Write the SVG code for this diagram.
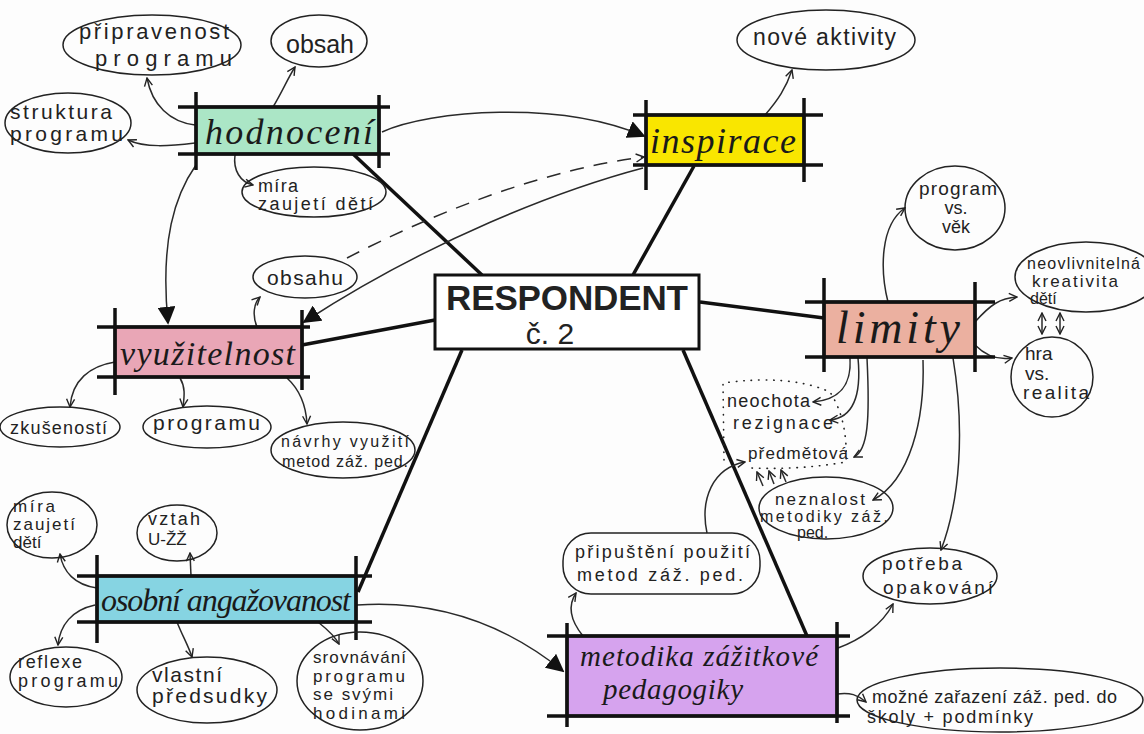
<svg xmlns="http://www.w3.org/2000/svg" width="1144" height="734" viewBox="0 0 1144 734">
<defs>
<marker id="open" viewBox="0 0 10 10" refX="9" refY="5" markerWidth="10" markerHeight="10" markerUnits="userSpaceOnUse" orient="auto-start-reverse">
<path d="M1,1 L9,5 L1,9" fill="none" stroke="#222" stroke-width="1.4"/>
</marker>
<marker id="solid" viewBox="0 0 10 10" refX="9" refY="5" markerWidth="18" markerHeight="18" markerUnits="userSpaceOnUse" orient="auto">
<path d="M0,0 L10,5 L0,10 z" fill="#111"/>
</marker>
<style>
.bub{fill:none;stroke:#222;stroke-width:1.5}
.t{font-family:"Liberation Sans","DejaVu Sans",sans-serif;fill:#222}
.lab{font-family:"Liberation Serif","DejaVu Serif",serif;font-style:italic;fill:#1a1a1a}
.frame{stroke:#111;stroke-width:3.5;fill:none}
.box{stroke:#111;stroke-width:3}
.c{fill:none;stroke:#2a2a2a;stroke-width:1.5}
.thick{fill:none;stroke:#111;stroke-width:3.5}
</style>
</defs>
<rect width="1144" height="734" fill="#fdfdfd"/>

<g id="connectors">
<g id="spokes">
<path class="thick" d="M482,275 L352,153"/>
<path class="thick" d="M633,275 L694,166"/>
<path class="thick" d="M435,320 L302,345"/>
<path class="thick" d="M700,302 L824,318"/>
<path class="thick" d="M462,350 L358,592"/>
<path class="thick" d="M683,350 L807,636"/>
</g>
<path class="c" marker-end="url(#open)" d="M195,125 C170,122 152,105 147,78"/>
<path class="c" marker-end="url(#open)" d="M273,107 C282,92 288,78 295,67"/>
<path class="c" marker-end="url(#open)" d="M195,143 C170,146 145,148 128,140"/>
<path class="c" marker-end="url(#open)" d="M235,155 C233,170 240,182 253,185"/>
<path class="c" marker-end="url(#solid)" d="M196,165 C175,195 160,240 168,323"/>
<path class="c" marker-end="url(#solid)" d="M382,132 C430,110 560,100 644,136"/>
<path class="c" marker-end="url(#open)" d="M765,115 C778,100 786,88 792,70"/>
<path class="c" marker-end="url(#open)" stroke-dasharray="14 10" d="M347,258 C430,215 540,170 644,157"/>
<path class="c" marker-end="url(#solid)" d="M643,168 C560,190 430,240 304,322"/>
<path class="c" marker-end="url(#open)" d="M257,327 C252,315 254,303 260,297"/>
<path class="c" marker-end="url(#open)" d="M115,362 C90,366 72,380 70,407"/>
<path class="c" marker-end="url(#open)" d="M180,378 C186,388 184,398 183,407"/>
<path class="c" marker-end="url(#open)" d="M287,378 C300,390 306,405 307,424"/>
<path class="c" marker-end="url(#open)" d="M888,302 C880,270 880,225 905,208"/>
<path class="c" marker-end="url(#open)" d="M975,322 C990,305 1000,298 1017,297"/>
<path class="c" marker-end="url(#open)" d="M975,345 C988,358 1000,360 1012,358"/>
<path class="c" marker-start="url(#open)" marker-end="url(#open)" d="M1042,313 L1042,334"/>
<path class="c" marker-start="url(#open)" marker-end="url(#open)" d="M1060,313 L1060,334"/>
<path class="c" marker-end="url(#open)" d="M850,358 C852,390 835,400 813,402"/>
<path class="c" marker-end="url(#open)" d="M858,358 C862,400 850,418 830,420"/>
<path class="c" marker-end="url(#open)" d="M867,358 C870,420 868,450 854,457"/>
<path class="c" marker-end="url(#open)" d="M923,360 C925,420 910,480 873,500"/>
<path class="c" marker-end="url(#open)" d="M953,358 C965,430 960,500 941,550"/>
<path class="c" marker-end="url(#open)" d="M763,486 L757,472"/>
<path class="c" marker-end="url(#open)" d="M774,484 L769,471"/>
<path class="c" marker-end="url(#open)" d="M786,482 L781,470"/>
<path class="c" marker-end="url(#open)" d="M707,533 C700,500 712,468 745,462"/>
<path class="c" marker-end="url(#open)" d="M583,636 C570,620 568,605 576,593"/>
<path class="c" marker-end="url(#open)" d="M838,648 C860,640 882,625 893,604"/>
<path class="c" marker-end="url(#open)" d="M837,694 C850,692 858,695 866,702"/>
<path class="c" marker-end="url(#open)" d="M97,588 C75,585 63,572 60,554"/>
<path class="c" marker-end="url(#open)" d="M191,576 L190,553"/>
<path class="c" marker-end="url(#open)" d="M95,605 C72,610 60,625 58,645"/>
<path class="c" marker-end="url(#open)" d="M177,622 C182,635 188,645 192,657"/>
<path class="c" marker-end="url(#open)" d="M318,622 C328,630 335,636 339,644"/>
<path class="c" marker-end="url(#solid)" d="M357,605 C430,600 500,620 563,671"/>
</g>

<g id="respondent">
<rect class="box" x="435" y="275" width="264" height="74" fill="#ffffff" stroke-width="4"/>
<text class="t" x="567" y="310" font-size="35" font-weight="bold" text-anchor="middle" textLength="242" fill="#111">RESPONDENT</text>
<text class="t" x="550" y="344" font-size="30" text-anchor="middle" fill="#111">č. 2</text>
</g>

<g id="hodnoceni">
<rect class="box" x="196" y="107" width="183" height="47" fill="#abe6c6" stroke="none"/>
<path class="frame" d="M178,107 H390 M178,154 H390 M196,92 V170 M379,95 V168"/>
<text class="lab" x="205" y="144" font-size="36" textLength="168">hodnocení</text>
</g>

<g id="inspirace">
<rect class="box" x="646" y="115" width="158" height="50" fill="#f9e600" stroke="none"/>
<path class="frame" d="M633,115 H823 M633,165 H823 M646,100 V190 M804,98 V182"/>
<text class="lab" x="650" y="153" font-size="36" textLength="146">inspirace</text>
</g>

<g id="vyuzitelnost">
<rect class="box" x="115" y="327" width="187" height="50" fill="#e9a6b6" stroke="none"/>
<path class="frame" d="M97,327 H310 M97,377 H310 M115,308 V395 M302,310 V390"/>
<text class="lab" x="120" y="365" font-size="34" textLength="175">využitelnost</text>
</g>

<g id="limity">
<rect class="box" x="824" y="302" width="151" height="55" fill="#ebb0a0" stroke="none"/>
<path class="frame" d="M805,302 H995 M805,357 H995 M824,278 V372 M975,282 V372"/>
<text class="lab" x="836" y="343" font-size="46" textLength="124">limity</text>
</g>

<g id="osobni">
<rect class="box" x="97" y="576" width="259" height="46" fill="#86d4e2" stroke="none"/>
<path class="frame" d="M77,576 H372 M77,622 H372 M97,555 V643 M356,556 V640"/>
<text class="lab" x="101" y="611" font-size="32" textLength="250">osobní angažovanost</text>
</g>

<g id="metodika">
<rect class="box" x="567" y="636" width="270" height="80" fill="#d6a3ee" stroke="none"/>
<path class="frame" d="M547,636 H850 M547,716 H850 M567,623 V727 M837,622 V723"/>
<text class="lab" x="580" y="666" font-size="29" textLength="238">metodika zážitkové</text>
<text class="lab" x="603" y="699" font-size="29" textLength="140">pedagogiky</text>
</g>

<g id="pripravenost">
<ellipse class="bub" cx="152" cy="45" rx="89" ry="30"/>
<text class="t" x="79" y="39" font-size="22" textLength="150">připravenost</text>
<text class="t" x="95" y="66" font-size="22" textLength="137">programu</text>
</g>
<g id="obsah">
<ellipse class="bub" cx="319" cy="41" rx="48" ry="26"/>
<text class="t" x="286" y="53" font-size="25" textLength="68">obsah</text>
</g>
<g id="struktura">
<ellipse class="bub" cx="68" cy="123" rx="63" ry="30"/>
<text class="t" x="10" y="119" font-size="21" textLength="102">struktura</text>
<text class="t" x="10" y="141" font-size="21" textLength="113">programu</text>
</g>
<g id="mira1">
<ellipse class="bub" cx="314" cy="192" rx="72" ry="25"/>
<text class="t" x="258" y="192" font-size="18" textLength="40">míra</text>
<text class="t" x="258" y="210" font-size="18" textLength="115">zaujetí dětí</text>
</g>
<g id="nove">
<ellipse class="bub" cx="826" cy="40" rx="89" ry="30"/>
<text class="t" x="753" y="45" font-size="23" textLength="143">nové aktivity</text>
</g>
<g id="obsahu">
<ellipse class="bub" cx="305" cy="277" rx="52" ry="21"/>
<text class="t" x="267" y="285" font-size="21" textLength="76">obsahu</text>
</g>
<g id="program-vek">
<ellipse class="bub" cx="955" cy="208" rx="50" ry="42"/>
<text class="t" x="958" y="195" font-size="19" text-anchor="middle" textLength="78">program</text>
<text class="t" x="956" y="214" font-size="18" text-anchor="middle">vs.</text>
<text class="t" x="956" y="233" font-size="18" text-anchor="middle">věk</text>
</g>
<g id="neovlivnitelna">
<ellipse class="bub" cx="1086" cy="277" rx="71" ry="35"/>
<text class="t" x="1027" y="269" font-size="16" textLength="113">neovlivnitelná</text>
<text class="t" x="1032" y="287" font-size="17" textLength="86">kreativita</text>
<text class="t" x="1030" y="304" font-size="16">dětí</text>
</g>
<g id="hra">
<ellipse class="bub" cx="1052" cy="377" rx="41" ry="40"/>
<text class="t" x="1025" y="360" font-size="19">hra</text>
<text class="t" x="1025" y="380" font-size="19">vs.</text>
<text class="t" x="1023" y="399" font-size="19" textLength="66">realita</text>
</g>
<g id="vyhrady">
<path fill="none" stroke="#222" stroke-width="1.6" stroke-linecap="round" stroke-dasharray="0.5 7" d="M724,460 L723,383 Q790,374 830,392 Q848,420 846,462 Q800,470 750,468"/>
<text class="t" x="727" y="407" font-size="18" textLength="83">neochota</text>
<text class="t" x="733" y="429" font-size="18" textLength="100">rezignace</text>
<text class="t" x="748" y="459" font-size="17" textLength="100">předmětová</text>
</g>
<g id="neznalost">
<ellipse class="bub" cx="826" cy="508" rx="67" ry="31"/>
<text class="t" x="775" y="505" font-size="17" textLength="90">neznalost</text>
<text class="t" x="760" y="522" font-size="16" textLength="128">metodiky záž.</text>
<text class="t" x="797" y="538" font-size="16">ped.</text>
</g>
<g id="zkusenosti">
<ellipse class="bub" cx="60" cy="427" rx="60" ry="20"/>
<text class="t" x="10" y="434" font-size="18" textLength="97">zkušeností</text>
</g>
<g id="programu">
<ellipse class="bub" cx="207" cy="427" rx="64" ry="21"/>
<text class="t" x="153" y="430" font-size="21" textLength="107">programu</text>
</g>
<g id="navrhy">
<ellipse class="bub" cx="343" cy="450" rx="72" ry="28"/>
<text class="t" x="281" y="447" font-size="16" textLength="128">návrhy využití</text>
<text class="t" x="282" y="467" font-size="16" textLength="126">metod záž. ped.</text>
</g>
<g id="mira2">
<ellipse class="bub" cx="52" cy="525" rx="45" ry="33"/>
<text class="t" x="13" y="512" font-size="17" textLength="42">míra</text>
<text class="t" x="13" y="530" font-size="17" textLength="62">zaujetí</text>
<text class="t" x="13" y="548" font-size="17">dětí</text>
</g>
<g id="vztah">
<ellipse class="bub" cx="177" cy="533" rx="40" ry="28"/>
<text class="t" x="148" y="525" font-size="18" textLength="52">vztah</text>
<text class="t" x="148" y="545" font-size="17">U-ŽŽ</text>
</g>
<g id="reflexe">
<ellipse class="bub" cx="66" cy="677" rx="56" ry="30"/>
<text class="t" x="18" y="668" font-size="18" textLength="64">reflexe</text>
<text class="t" x="18" y="687" font-size="18" textLength="100">programu</text>
</g>
<g id="vlastni">
<ellipse class="bub" cx="207" cy="690" rx="70" ry="33"/>
<text class="t" x="152" y="682" font-size="21" textLength="70">vlastní</text>
<text class="t" x="152" y="703" font-size="21" textLength="115">předsudky</text>
</g>
<g id="srovnavani">
<ellipse class="bub" cx="360" cy="681" rx="63" ry="49"/>
<text class="t" x="313" y="663" font-size="17" textLength="93">srovnávání</text>
<text class="t" x="313" y="682" font-size="17" textLength="92">programu</text>
<text class="t" x="313" y="700" font-size="17" textLength="80">se svými</text>
<text class="t" x="313" y="719" font-size="17" textLength="92">hodinami</text>
</g>
<g id="pripusteni">
<rect class="bub" x="563" y="533" width="197" height="61" rx="28"/>
<text class="t" x="575" y="558" font-size="18" textLength="175">připuštění použití</text>
<text class="t" x="577" y="581" font-size="18" textLength="166">metod záž. ped.</text>
</g>
<g id="potreba">
<ellipse class="bub" cx="930" cy="576" rx="67" ry="28"/>
<text class="t" x="882" y="570" font-size="19" textLength="80">potřeba</text>
<text class="t" x="883" y="594" font-size="19" textLength="110">opakování</text>
</g>
<g id="mozne">
<ellipse class="bub" cx="1000" cy="700" rx="143" ry="32"/>
<text class="t" x="872" y="703" font-size="18" textLength="245">možné zařazení záž. ped. do</text>
<text class="t" x="867" y="723" font-size="18" textLength="166">školy + podmínky</text>
</g>
</svg>
